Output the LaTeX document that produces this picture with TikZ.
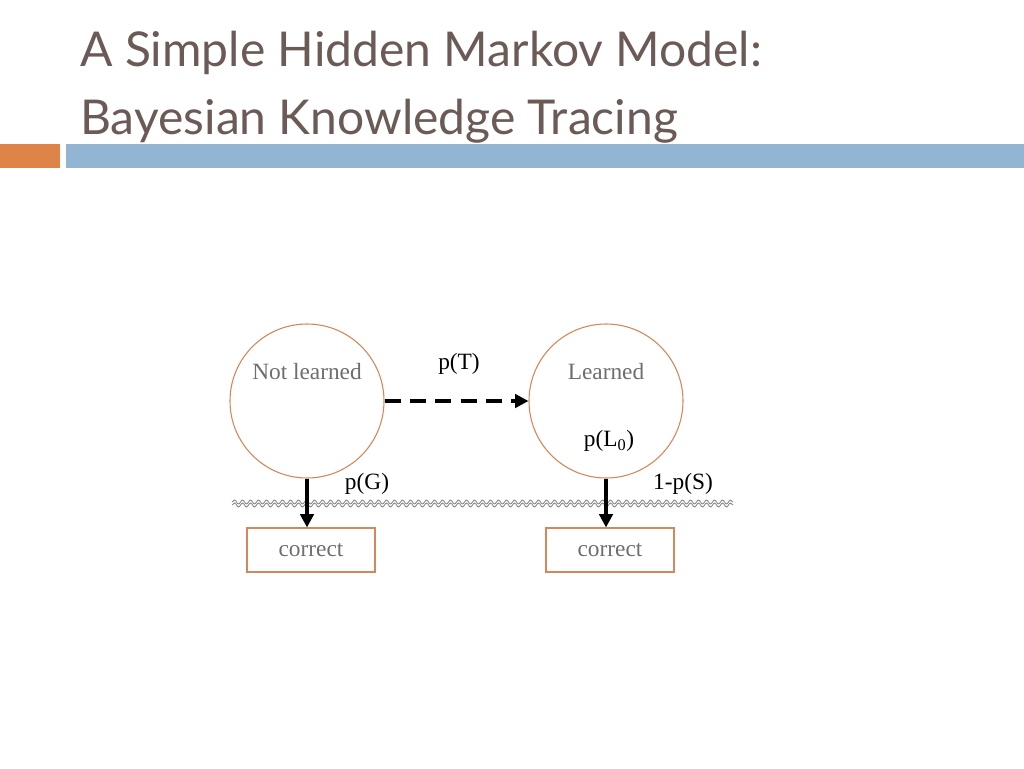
\documentclass[tikz,border=0pt]{standalone}
\usepackage{fontspec}
\setmainfont{Liberation Serif}
\newfontfamily\titlefont{Lato}
\usetikzlibrary{decorations.pathmorphing,arrows.meta}
\definecolor{ttl}{HTML}{6B5A55}
\definecolor{org}{HTML}{DE8449}
\definecolor{blu}{HTML}{93B5D4}
\definecolor{edge}{HTML}{D4875A}
\definecolor{txt}{HTML}{6E6E6E}
\tikzset{
  state/.style={circle,draw=edge,line width=0.8pt,minimum size=115.5pt,inner sep=0pt},
  obs/.style={rectangle,draw=edge,line width=0.8pt,minimum width=96pt,minimum height=33pt,inner sep=0pt,font=\fontsize{17.5}{19}\selectfont,text=txt},
  lbl/.style={font=\fontsize{17.5}{19}\selectfont,inner sep=0pt},
  arr/.style={line width=2.6pt,-{Triangle[length=10pt,width=10pt]}}
}
\begin{document}
\begin{tikzpicture}[x=0.75pt,y=-0.75pt]
\useasboundingbox (0,0) rectangle (1024,768);
\fill[white] (0,0) rectangle (1024,768);
\node[anchor=base west,text=ttl,font=\titlefont\fontsize{36}{40}\selectfont,inner sep=0pt] (t1) at (80,66) {A Simple Hidden Markov Model:};
\node[anchor=base west,text=ttl,font=\titlefont\fontsize{36}{40}\selectfont,inner sep=0pt] (t2) at (80,134) {Bayesian Knowledge Tracing};
\fill[org] (0,144) rectangle (60,168);
\fill[blu] (66,144) rectangle (1024,168);
\node[state] (nl) at (307,401) {};
\node[state] (le) at (606,401) {};
\node[lbl,text=txt] at (307,372) {Not learned};
\node[lbl,text=txt] at (606,372) {Learned};
\node[obs] (c1) at (311,550) {correct};
\node[obs] (c2) at (610,550) {correct};
\draw[gray,line width=0.6pt,decorate,decoration={snake,segment length=6pt,amplitude=1.5pt}] (232,502) -- (733,502);
\draw[gray,line width=0.6pt,decorate,decoration={snake,segment length=6pt,amplitude=1.5pt}] (232,505) -- (733,505);
\draw[arr,dashed,dash pattern=on 12pt off 7pt] (nl.east) -- (le.west);
\draw[arr] (nl.south) -- (c1.north -| nl.south);
\draw[arr] (le.south) -- (c2.north -| le.south);
\node[lbl] at (459,364) {p(T)};
\node[lbl] at (609,441) {p(L\textsubscript{0})};
\node[lbl] at (367,484) {p(G)};
\node[lbl] at (683,484) {1-p(S)};
\end{tikzpicture}
\end{document}
